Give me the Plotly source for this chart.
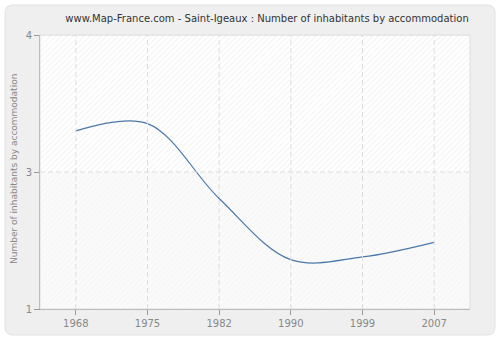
import plotly.graph_objects as go

years = ["1968", "1975", "1982", "1990", "1999", "2007"]
values = [2.95, 3.03, 2.21, 1.54, 1.57, 1.73]
tick_vals = [1, 2.5, 4]
tick_text = ["1", "3", "4"]

W, H = 500, 340
ml, mr, mt, mb = 40, 30, 35, 31
pw, ph = W - ml - mr, H - mt - mb

def px_x(p):
    return (p - ml) / pw

def px_y(p):
    return 1 - (p - mt) / ph

fig = go.Figure()

# background hatching bands (decoration)
fig.add_trace(go.Scatter(
    x=[-0.5, 5.5, 5.5, -0.5, -0.5], y=[2.5, 2.5, 4, 4, 2.5],
    mode="none", fill="toself", fillcolor="rgba(0,0,0,0)",
    fillpattern=dict(shape="/", fgcolor="#e4e4e4", bgcolor="#ffffff", size=4, solidity=0.25),
    hoverinfo="skip", showlegend=False))
fig.add_trace(go.Scatter(
    x=[-0.5, 5.5, 5.5, -0.5, -0.5], y=[1, 1, 2.5, 2.5, 1],
    mode="none", fill="toself", fillcolor="rgba(0,0,0,0)",
    fillpattern=dict(shape="/", fgcolor="#f0f0f0", bgcolor="#fafafa", size=4, solidity=0.25),
    hoverinfo="skip", showlegend=False))

# dashed grid lines drawn above the hatching
for i in range(len(years)):
    fig.add_shape(type="line", xref="x", yref="paper", x0=i, x1=i, y0=0, y1=1,
                  line=dict(color="#dddddd", width=1, dash="5px,3px"), layer="above")
for v in tick_vals[1:]:
    fig.add_shape(type="line", xref="paper", yref="y", x0=0, x1=1, y0=v, y1=v,
                  line=dict(color="#dddddd", width=1, dash="5px,3px"), layer="above")
# light border on top/right
fig.add_shape(type="rect", xref="paper", yref="paper", x0=0, x1=1, y0=0, y1=1,
              line=dict(color="#dedede", width=1), layer="above")

fig.add_trace(go.Scatter(
    x=list(range(len(years))), y=values, mode="lines",
    line=dict(color="#4a78aa", width=1.2, shape="spline", smoothing=1.0),
    showlegend=False))

# rounded outer panel
x0, x1 = px_x(5), px_x(495)
y0, y1 = px_y(335), px_y(5)
rx, ry = 8 / pw, 8 / ph
path = (f"M {x0+rx},{y1} L {x1-rx},{y1} Q {x1},{y1} {x1},{y1-ry} "
        f"L {x1},{y0+ry} Q {x1},{y0} {x1-rx},{y0} L {x0+rx},{y0} "
        f"Q {x0},{y0} {x0},{y0+ry} L {x0},{y1-ry} Q {x0},{y1} {x0+rx},{y1} Z")
fig.add_shape(type="path", path=path, xref="paper", yref="paper",
              fillcolor="#efefef", line=dict(color="#e2e2e2", width=1), layer="below")

fig.add_annotation(text="Number of inhabitants by accommodation", textangle=-90,
                   xref="paper", yref="paper", x=px_x(14), y=px_y(169),
                   xanchor="center", yanchor="middle", showarrow=False,
                   font=dict(family="DejaVu Sans", size=9, color="#888888"))

fig.update_layout(
    width=W, height=H,
    margin=dict(l=ml, r=mr, t=mt, b=mb, autoexpand=False),
    paper_bgcolor="#ffffff", plot_bgcolor="#fbfbfb",
    title=dict(text="www.Map-France.com - Saint-Igeaux : Number of inhabitants by accommodation",
               x=px_x(267), xref="paper", xanchor="center", y=1 - 18 / H, yanchor="middle",
               font=dict(family="DejaVu Sans", size=10, color="#333333")),
    font=dict(family="DejaVu Sans", size=10, color="#888888"),
    xaxis=dict(range=[-0.5, 5.5], tickmode="array", tickvals=list(range(len(years))),
               ticktext=years, showline=True, linecolor="#999999", linewidth=1,
               ticks="outside", ticklen=5, tickcolor="#999999", automargin=False,
               showgrid=False, zeroline=False, layer="above traces",
               tickfont=dict(size=10, color="#888888")),
    yaxis=dict(range=[1, 4], tickmode="array", tickvals=tick_vals, ticktext=tick_text,
               showline=True, linecolor="#999999", linewidth=1,
               ticks="outside", ticklen=5, tickcolor="#999999", automargin=False,
               showgrid=False, zeroline=False, layer="above traces",
               tickfont=dict(size=10, color="#888888")),
)

fig.write_html("out.html")
